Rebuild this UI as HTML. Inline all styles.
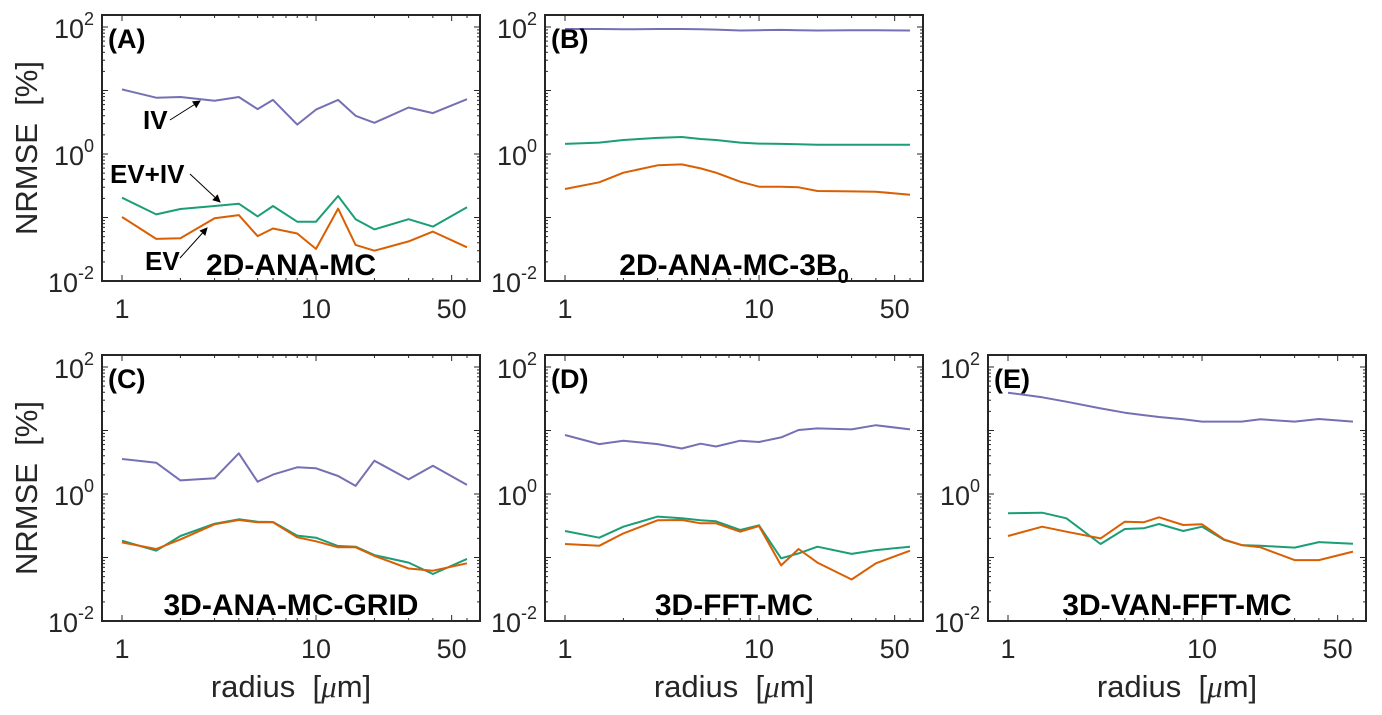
<!DOCTYPE html>
<html><head><meta charset="utf-8"><style>
body{margin:0;background:#fff;width:1382px;height:710px;overflow:hidden;}
svg text{font-family:"Liberation Sans",Arial,sans-serif;}
</style></head><body>
<svg id="chart" width="1382" height="710" viewBox="0 0 1382 710" xmlns="http://www.w3.org/2000/svg"></svg>
<script>
const radii=[1,1.5,2,3,4,5,6,8,10,13,16,20,30,40,60];
const xTickLabels=["1","10","50"];
const xTickValues=[1,10,50];
const yTickExps=[-2,0,2];
const panelLetters=["(A)","(B)","(C)","(D)","(E)"];
const panelTitles=["2D-ANA-MC","2D-ANA-MC-3B","3D-ANA-MC-GRID","3D-FFT-MC","3D-VAN-FFT-MC"];
const ivA=[10.4,7.7,7.9,6.9,7.9,5.1,7.1,2.9,5.0,7.1,4.0,3.1,5.4,4.4,7.3];
const evivA=[0.205,0.112,0.136,0.152,0.165,0.104,0.152,0.086,0.086,0.218,0.094,0.065,0.094,0.072,0.145];
const evA=[0.102,0.046,0.047,0.097,0.109,0.051,0.067,0.056,0.032,0.138,0.037,0.030,0.042,0.060,0.034];
const ivB=[93,93,92,93,93,92,91,88,89,90,89,88,89,89,88];
const evivB=[1.44,1.51,1.66,1.79,1.85,1.72,1.66,1.51,1.46,1.44,1.42,1.40,1.40,1.40,1.40];
const evB=[0.281,0.358,0.508,0.664,0.687,0.594,0.508,0.366,0.306,0.306,0.299,0.261,0.258,0.255,0.229];
const ivC=[3.56,3.11,1.64,1.77,4.37,1.56,2.02,2.63,2.54,1.92,1.34,3.35,1.70,2.79,1.39];
const evivC=[0.184,0.128,0.218,0.341,0.399,0.366,0.362,0.221,0.205,0.152,0.148,0.109,0.083,0.055,0.095];
const evC=[0.173,0.136,0.193,0.333,0.390,0.358,0.358,0.208,0.180,0.145,0.145,0.106,0.067,0.062,0.081];
const ivD=[8.5,6.1,6.9,6.1,5.2,6.2,5.6,6.9,6.6,7.8,10.2,10.8,10.4,12.1,10.4];
const evivD=[0.261,0.205,0.306,0.440,0.414,0.385,0.371,0.271,0.321,0.097,0.116,0.148,0.114,0.131,0.148];
const evD=[0.163,0.153,0.240,0.385,0.390,0.345,0.345,0.255,0.313,0.075,0.136,0.083,0.045,0.081,0.128];
const ivE=[39.4,33.3,28.4,22.3,19.1,17.5,16.3,15.0,13.8,13.8,13.8,15.0,13.8,15.2,13.8];
const evivE=[0.496,0.508,0.414,0.163,0.281,0.288,0.337,0.261,0.306,0.189,0.157,0.153,0.143,0.175,0.165];
const evE=[0.218,0.306,0.255,0.200,0.366,0.358,0.430,0.325,0.333,0.193,0.157,0.145,0.091,0.091,0.124];

const NS="http://www.w3.org/2000/svg";
const svg=document.getElementById('chart');
function mk(tag,attrs,parent){const e=document.createElementNS(NS,tag);for(const k in attrs)e.setAttribute(k,attrs[k]);(parent||svg).appendChild(e);return e;}
const W=378,H=266,XMIN=-0.103,XMAX=1.845,YMIN=-2,YMAX=2.189;
const panels=[
 {x:102,y:15,iv:ivA,eviv:evivA,ev:evA,ylab:true,xlab:false},
 {x:545,y:15,iv:ivB,eviv:evivB,ev:evB,ylab:false,xlab:false},
 {x:102,y:355,iv:ivC,eviv:evivC,ev:evC,ylab:true,xlab:true},
 {x:545,y:355,iv:ivD,eviv:evivD,ev:evD,ylab:false,xlab:true},
 {x:988,y:355,iv:ivE,eviv:evivE,ev:evE,ylab:false,xlab:true}];
const colors={iv:"#7570b3",eviv:"#1b9e77",ev:"#d95f02"};
panels.forEach((p,i)=>{
  const g=mk('g',{});
  
  
  const sx=v=>p.x+(Math.log10(v)-XMIN)/(XMAX-XMIN)*W;
  const sy=v=>p.y+H-(Math.log10(v)-YMIN)/(YMAX-YMIN)*H;
  const tk=mk('g',{stroke:"#262626","stroke-width":1},g);
  
  
  for(let d=-2;d<=2;d++)for(let m=1;m<10;m++){const v=m*Math.pow(10,d);const L=Math.log10(v);if(L<YMIN||L>YMAX)continue;const y=sy(v);const len=m===1?6:3;
    mk('line',{x1:p.x,x2:p.x+len,y1:y,y2:y},tk);mk('line',{x1:p.x+W,x2:p.x+W-len,y1:y,y2:y},tk);}
  for(let d=0;d<=1;d++)for(let m=1;m<10;m++){const v=m*Math.pow(10,d);const L=Math.log10(v);if(L<XMIN||L>XMAX)continue;const x=sx(v);const len=(m===1||v===50)?6:3;
    mk('line',{x1:x,x2:x,y1:p.y+H,y2:p.y+H-len},tk);mk('line',{x1:x,x2:x,y1:p.y,y2:p.y+len},tk);}
  [["iv",p.iv],["eviv",p.eviv],["ev",p.ev]].forEach(([k,arr])=>{
    const pl=mk('polyline',{points:arr.map((v,j)=>sx(radii[j]).toFixed(1)+","+sy(v).toFixed(1)).join(" "),fill:"none",stroke:colors[k],"stroke-width":2,"stroke-linejoin":"round"},g);
    
    
  });
  const box=mk('rect',{x:p.x,y:p.y,width:W,height:H,fill:"none",stroke:"#262626","stroke-width":2},g);
  
  
  yTickExps.forEach(e=>{
    const t=mk('text',{x:p.x-8,y:sy(Math.pow(10,e))+11,"text-anchor":"end","font-size":27,fill:"#262626"},g);
    
    
    t.textContent="10";
    const s=mk('tspan',{dy:-13,"font-size":18},t);s.textContent=String(e);
  });
  xTickValues.forEach((v,j)=>{
    const t=mk('text',{x:sx(v),y:p.y+H+37,"text-anchor":"middle","font-size":27,fill:"#262626"},g);
    
    
    t.textContent=xTickLabels[j];
  });
  const lt=mk('text',{x:p.x+6,y:p.y+33,"font-size":27,"font-weight":"bold",fill:"#000"},g);
  
  
  lt.textContent=panelLetters[i];
  const tt=mk('text',{x:p.x+W/2,y:p.y+H-6,"text-anchor":"middle","font-size":30,"font-weight":"bold",fill:"#000"},g);
  
  
  tt.textContent=panelTitles[i];
  if(i===1){const s=mk('tspan',{dy:8,"font-size":20},tt);s.textContent="0";}
  if(p.ylab){const yl=mk('text',{transform:`translate(37,${p.y+H/2}) rotate(-90)`,"text-anchor":"middle","font-size":31,fill:"#262626"},g);
    
    
    yl.textContent="NRMSE\u00a0\u00a0[%]";}
  if(p.xlab){const xl=mk('text',{x:p.x+W/2,y:p.y+H+76,"text-anchor":"middle","font-size":31,fill:"#262626"},g);
    
    
    xl.textContent="radius\u00a0\u00a0[";
    const mu=mk('tspan',{"font-style":"italic","font-family":"Liberation Serif, serif"},xl);mu.textContent="μ";
    const r=mk('tspan',{},xl);r.textContent="m]";}
});
const defs=mk('defs',{});
const mkr=mk('marker',{id:"ah",markerWidth:8,markerHeight:8,refX:7,refY:4,orient:"auto"},defs);
mk('path',{d:"M0,0 L8,4 L0,8 z",fill:"#000"},mkr);
[["IV",143,129,170,120,200,101],["EV+IV",110,183,190,174,220,202],["EV",145,270,180,258,207,228]].forEach(a=>{
  const t=mk('text',{x:a[1],y:a[2],"font-size":26,"font-weight":"bold",fill:"#000"});
  
  
  t.textContent=a[0];
  const l=mk('line',{x1:a[3],y1:a[4],x2:a[5],y2:a[6],stroke:"#000","stroke-width":1,"marker-end":"url(#ah)"});
  
  
});
</script>
</body></html>
